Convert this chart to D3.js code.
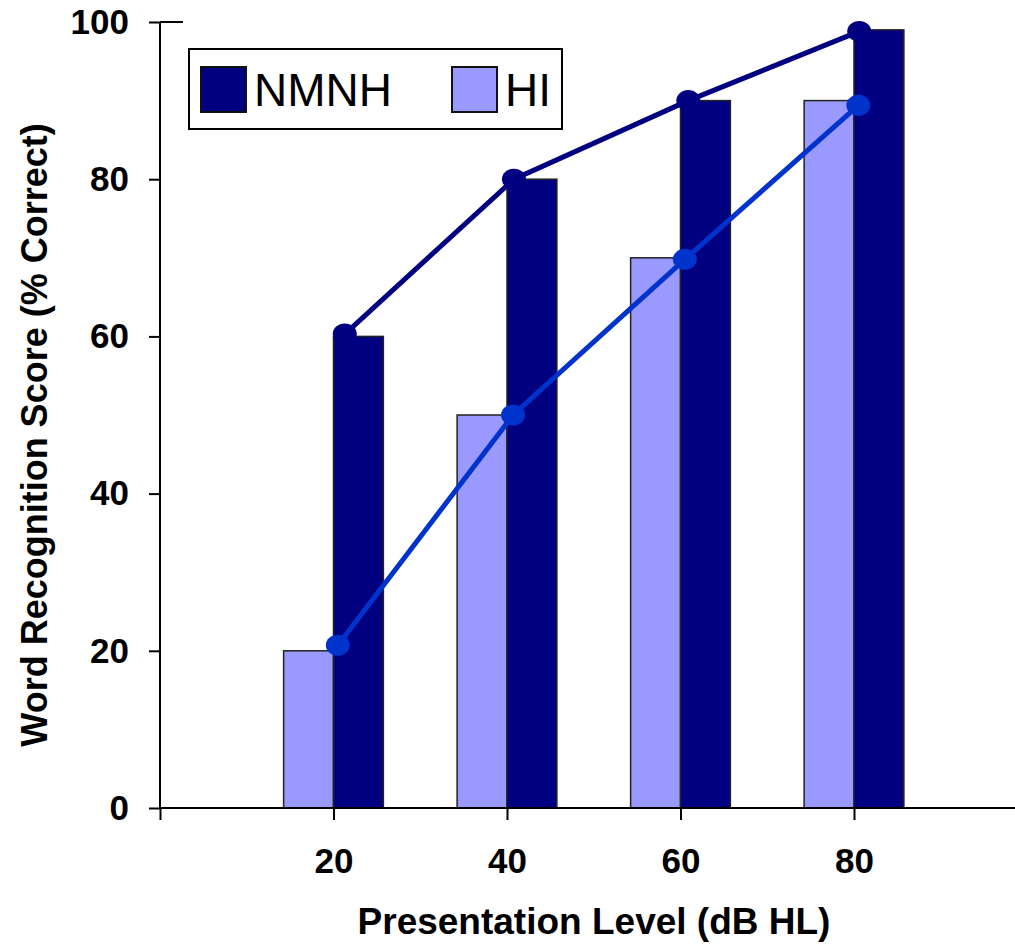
<!DOCTYPE html>
<html>
<head>
<meta charset="utf-8">
<script src="https://cdn.jsdelivr.net/npm/d3@7"></script>
<style>
  body { margin: 0; background: #fff; }
  text { font-family: "Liberation Sans", Arial, sans-serif; }
</style>
</head>
<body>
<svg class="vis-container"></svg>
<script>
// presentation levels (dB HL)
const levels = [20, 40, 60, 80];
// bar values (% correct)
const nmnhBars = [60, 80, 90, 99];
const hiBars = [20, 50, 70, 90];
// line points (slightly offset from the bars)
const nmnhLineX = [21.3, 40.8, 60.9, 80.6];
const nmnhLineY = [60.3, 80, 90, 98.8];
const hiLineX = [20.5, 40.7, 60.5, 80.5];
const hiLineY = [20.7, 50, 69.8, 89.4];
const yTicks = [0, 20, 40, 60, 80, 100];
const xTicks = [0, 20, 40, 60, 80];

const width = 1015;
const height = 948;

const svg = d3.select('.vis-container')
  .attr('width', width)
  .attr('height', height);

const x = d3.scaleLinear().domain([0, 100]).range([160, 1027.5]);
const y = d3.scaleLinear().domain([0, 100]).range([808, 22]);
const barW = x(20) - x(14.25); // bar width, ~50px

const darkBlue = '#000080';
const lightBlue = '#9999ff';
const lineBlue = '#0033cc';

// bars
const g = svg.append('g');
g.selectAll('.hi')
  .data(levels)
  .enter()
  .append('rect')
    .attr('class', 'hi')
    .attr('x', (d) => x(d) - barW)
    .attr('y', (d, i) => y(hiBars[i]))
    .attr('width', barW)
    .attr('height', (d, i) => y(0) - y(hiBars[i]))
    .attr('fill', lightBlue)
    .attr('stroke', '#222')
    .attr('stroke-width', 1.5);

g.selectAll('.nmnh')
  .data(levels)
  .enter()
  .append('rect')
    .attr('class', 'nmnh')
    .attr('x', (d) => x(d))
    .attr('y', (d, i) => y(nmnhBars[i]))
    .attr('width', barW)
    .attr('height', (d, i) => y(0) - y(nmnhBars[i]))
    .attr('fill', darkBlue)
    .attr('stroke', '#222')
    .attr('stroke-width', 1.5);

// axes
const yAxis = d3.axisLeft(y).tickValues(yTicks).tickSize(11).tickPadding(20);
svg.append('g')
  .attr('transform', 'translate(160,0)')
  .call(yAxis)
  .call(s => s.selectAll('text')
    .attr('font-family', '"Liberation Sans", Arial, sans-serif')
    .attr('font-size', 35)
    .attr('font-weight', 'bold')
    .attr('fill', '#000'))
  .call(s => s.select('.domain').attr('d', 'M0,22V808').attr('stroke', '#000').attr('stroke-width', 2))
  .call(s => s.selectAll('line').attr('stroke', '#000').attr('stroke-width', 2));

// top tick runs through the axis
svg.append('line')
  .attr('x1', 160).attr('x2', 183)
  .attr('y1', y(100)).attr('y2', y(100))
  .attr('stroke', '#000').attr('stroke-width', 2);

const xAxis = d3.axisBottom(x).tickValues(xTicks).tickSize(12).tickPadding(28)
  .tickFormat(d => d === 0 ? '' : d);
svg.append('g')
  .attr('transform', 'translate(0,808)')
  .call(xAxis)
  .call(s => s.selectAll('text')
    .attr('font-family', '"Liberation Sans", Arial, sans-serif')
    .attr('font-size', 35)
    .attr('font-weight', 'bold')
    .attr('fill', '#000'))
  .call(s => s.select('.domain').attr('d', 'M160,0H1015').attr('stroke', '#000').attr('stroke-width', 2))
  .call(s => s.selectAll('line').attr('stroke', '#000').attr('stroke-width', 2));

// lines with markers
function drawLine(xs, ys, color) {
  const pts = xs.map((d, i) => [d, ys[i]]);
  const line = d3.line().x(d => x(d[0])).y(d => y(d[1]));
  svg.append('path')
    .datum(pts)
    .attr('d', line)
    .attr('fill', 'none')
    .attr('stroke', color)
    .attr('stroke-width', 5);
  svg.selectAll(null)
    .data(pts)
    .enter()
    .append('ellipse')
      .attr('cx', d => x(d[0]))
      .attr('cy', d => y(d[1]))
      .attr('rx', 12)
      .attr('ry', 10.5)
      .attr('fill', color);
}
drawLine(nmnhLineX, nmnhLineY, darkBlue);
drawLine(hiLineX, hiLineY, lineBlue);

// legend
const legend = svg.append('g');
legend.append('rect')
  .attr('x', 189).attr('y', 49)
  .attr('width', 373).attr('height', 80)
  .attr('fill', '#fff').attr('stroke', '#000').attr('stroke-width', 2);
const legendItems = [
  {name: 'NMNH', color: darkBlue, x: 201},
  {name: 'HI', color: lightBlue, x: 452}
];
legendItems.forEach(item => {
  legend.append('rect')
    .attr('x', item.x).attr('y', 67)
    .attr('width', 45).attr('height', 45)
    .attr('fill', item.color)
    .attr('stroke', '#111').attr('stroke-width', 2);
  legend.append('text')
    .attr('x', item.x + 53).attr('y', 106)
    .attr('font-size', 46)
    .text(item.name);
});

// axis titles
svg.append('text')
  .attr('x', 594).attr('y', 934)
  .attr('text-anchor', 'middle')
  .attr('font-size', 37)
  .attr('font-weight', 'bold')
  .text('Presentation Level (dB HL)');

svg.append('text')
  .attr('transform', 'translate(47,435) rotate(-90)')
  .attr('text-anchor', 'middle')
  .attr('font-size', 36)
  .attr('font-weight', 'bold')
  .text('Word Recognition Score (% Correct)');
</script>
</body>
</html>
